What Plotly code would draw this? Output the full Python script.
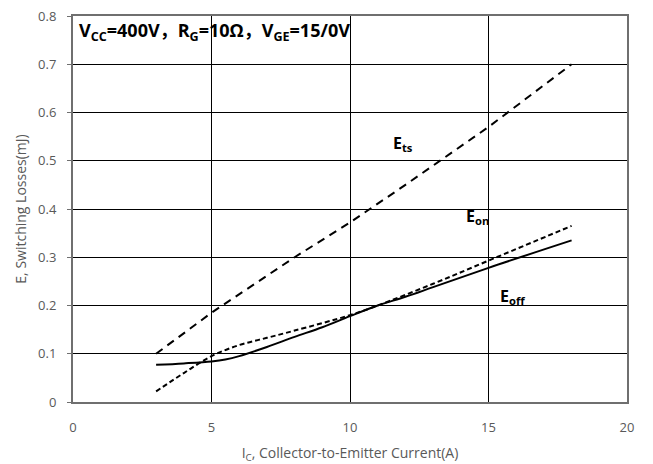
import plotly.graph_objects as go

ets_x = [3, 5, 8, 10, 12, 15, 18]
ets_y = [0.100, 0.185, 0.300, 0.372, 0.450, 0.570, 0.700]

eon_x = [3, 4, 5, 6, 7, 8, 10, 11, 13, 15, 18]
eon_y = [0.022, 0.060, 0.095, 0.118, 0.133, 0.148, 0.180, 0.200, 0.245, 0.293, 0.365]

eoff_x = [3, 4, 5, 5.5, 6, 7, 8, 9, 10, 11, 12, 13, 15, 18]
eoff_y = [0.077, 0.080, 0.084, 0.088, 0.095, 0.114, 0.135, 0.155, 0.178, 0.200, 0.218, 0.238, 0.278, 0.335]

x_ticks = [0, 5, 10, 15, 20]
y_ticks = [0, 0.1, 0.2, 0.3, 0.4, 0.5, 0.6, 0.7, 0.8]
y_tick_text = ["0", "0.1", "0.2", "0.3", "0.4", "0.5", "0.6", "0.7", "0.8"]

font_family = "Open Sans, Liberation Sans, sans-serif"

fig = go.Figure()
fig.add_trace(go.Scatter(x=ets_x, y=ets_y, mode="lines",
                         line=dict(color="black", width=2, dash="8px,6px"), name="Ets"))
fig.add_trace(go.Scatter(x=eon_x, y=eon_y, mode="lines", line_shape="spline",
                         line=dict(color="black", width=2, dash="5px,3px"), name="Eon"))
fig.add_trace(go.Scatter(x=eoff_x, y=eoff_y, mode="lines", line_shape="spline",
                         line=dict(color="black", width=2), name="Eoff"))

ann_font = dict(family=font_family, size=16, color="black")
fig.add_annotation(x=0.15, y=0.77, xref="x", yref="y", xanchor="left", yanchor="middle",
                   text="<b>V<sub>CC</sub>=400V<span style='font-family:Noto Sans CJK SC'>，</span>R<sub>G</sub>=10Ω<span style='font-family:Noto Sans CJK SC'>，</span>V<sub>GE</sub>=15/0V</b>",
                   showarrow=False, font=dict(family=font_family, size=18, color="black"))
fig.add_annotation(x=11.9, y=0.535, text="<b>E<sub>ts</sub></b>", showarrow=False, font=ann_font)
fig.add_annotation(x=14.6, y=0.385, text="<b>E<sub>on</sub></b>", showarrow=False, font=ann_font)
fig.add_annotation(x=15.9, y=0.218, text="<b>E<sub>off</sub></b>", showarrow=False, font=ann_font)

fig.update_layout(
    width=653, height=464,
    margin=dict(l=73, r=26, t=16, b=62),
    paper_bgcolor="white", plot_bgcolor="white",
    showlegend=False,
    font=dict(family=font_family, size=13, color="#595959"),
)
fig.update_xaxes(range=[0, 20], tickvals=x_ticks, showgrid=True, gridcolor="black", gridwidth=1,
                 showline=True, linecolor="#6f6f6f", linewidth=2, mirror=True,
                 zeroline=False, ticks="", ticklen=0, ticklabelstandoff=12, automargin=False,
                 title=dict(text="I<sub>C</sub>, Collector-to-Emitter Current(A)", standoff=14,
                            font=dict(size=14, color="#595959")),
                 tickfont=dict(size=13, color="#595959"))
fig.update_yaxes(range=[0, 0.8], tickvals=y_ticks, ticktext=y_tick_text, showgrid=True,
                 gridcolor="black", gridwidth=1,
                 showline=True, linecolor="#6f6f6f", linewidth=2, mirror=True,
                 zeroline=False, ticks="outside", ticklen=4, tickcolor="#6f6f6f",
                 ticklabelstandoff=8, automargin=False,
                 title=dict(text="E, Switching Losses(mJ)", standoff=8,
                            font=dict(size=14, color="#595959")),
                 tickfont=dict(size=13, color="#595959"))

fig.write_html("out.html")
